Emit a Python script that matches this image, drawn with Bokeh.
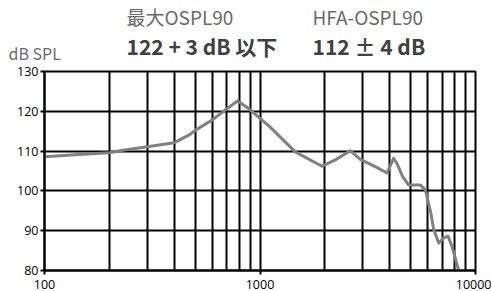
from bokeh.plotting import figure
from bokeh.layouts import column
from bokeh.models import FixedTicker, Range1d
from bokeh.core.properties import value
from bokeh.embed import file_html
from bokeh.resources import INLINE

# ---- data ----
freq = [100, 150, 200, 231, 300, 400, 426, 474, 500, 600, 689, 786, 886, 1000, 1112,
        1457, 1939, 2237, 2623, 2920, 3426, 3885, 4170, 4320, 4590, 4888, 5558, 5860,
        6206, 6399, 6746, 7126, 7459, 7772, 8356]
spl = [108.6, 109.2, 109.6, 110.2, 111.1, 112.1, 112.9, 114.2, 115.2, 117.8, 120.3, 122.6,
       120.7, 118.2, 116.1, 109.8, 106.2, 107.8, 110.1, 107.9, 106.1, 104.5, 108.2, 106.9,
       103.6, 101.5, 101.5, 100.2, 94.4, 90.3, 86.9, 88.2, 88.6, 86.1, 80.0]

x_major = [100, 1000, 10000]
x_grid = [100, 200, 300, 400, 500, 600, 700, 800, 900,
          1000, 2000, 3000, 4000, 5000, 6000, 7000, 8000, 9000, 10000]
y_ticks = [80, 90, 100, 110, 120, 130]

unit_label = "dB SPL"
heads = ["最大OSPL90", "HFA-OSPL90"]
values_txt = ["122 + 3 dB 以下", "112 ± 4 dB"]

W = 491
HEAD_H = 61

# ---- header figure (texts) ----
h = figure(width=W, height=HEAD_H, x_range=Range1d(0, W), y_range=Range1d(HEAD_H, 0),
           output_backend="svg", toolbar_location=None, title=None,
           x_axis_location=None, y_axis_location=None,
           min_border=0)
h.frame_align = False
h.grid.visible = False
h.outline_line_color = None
h.background_fill_color = "white"
h.border_fill_color = "white"

cjk = value("Noto Sans CJK JP")
h.text(x=[126, 312], y=[16, 16], text=heads, text_font=cjk, text_font_size="19px",
       text_color="#6a6a6a", text_baseline="alphabetic", text_align="left")
h.text(x=[126, 312], y=[45, 45], text=values_txt, text_font=cjk, text_font_size="21px",
       text_font_style="bold", text_color="#404040", text_baseline="alphabetic",
       text_align="left")
h.text(x=[8], y=[52], text=[unit_label], text_font=cjk, text_font_size="16px",
       text_color="#6a6a6a", text_baseline="alphabetic", text_align="left")

# ---- main chart ----
p = figure(width=W, height=291 - HEAD_H, x_axis_type="log",
           x_range=Range1d(100, 10000), y_range=Range1d(80, 130),
           output_backend="svg", toolbar_location=None, title=None,
           min_border_left=44, min_border_right=16, min_border_top=71 - HEAD_H,
           min_border_bottom=0)
p.frame_align = False
p.background_fill_color = "white"
p.border_fill_color = "white"
p.outline_line_color = "black"
p.outline_line_width = 2
p.outline_line_alpha = 1

p.line(freq, spl, line_color="#808080", line_width=3, line_join="round", line_cap="round")

p.xaxis.ticker = FixedTicker(ticks=x_major, minor_ticks=[])
p.yaxis.ticker = FixedTicker(ticks=y_ticks, minor_ticks=[])
p.xgrid.ticker = FixedTicker(ticks=x_grid)
p.ygrid.ticker = FixedTicker(ticks=y_ticks)
for g in (p.xgrid, p.ygrid):
    g.grid_line_color = "black"
    g.grid_line_width = 2
    g.grid_line_alpha = 1
for ax in (p.xaxis, p.yaxis):
    ax.axis_line_color = "black"
    ax.axis_line_width = 2
    ax.major_tick_line_color = "black"
    ax.major_tick_line_width = 2
    ax.major_tick_in = 0
    ax.major_tick_out = 4
    ax.minor_tick_line_color = None
    ax.major_label_text_font = "Open Sans"
    ax.major_label_text_font_size = "12.5px"
    ax.major_label_text_color = "black"
p.xaxis.major_label_standoff = 5
p.yaxis.major_label_standoff = 2
p.xaxis.major_label_overrides = {100: "100", 1000: "1000", 10000: "10000"}

layout = column(h, p, spacing=0)
open("out.html", "w").write(file_html(layout, INLINE))
